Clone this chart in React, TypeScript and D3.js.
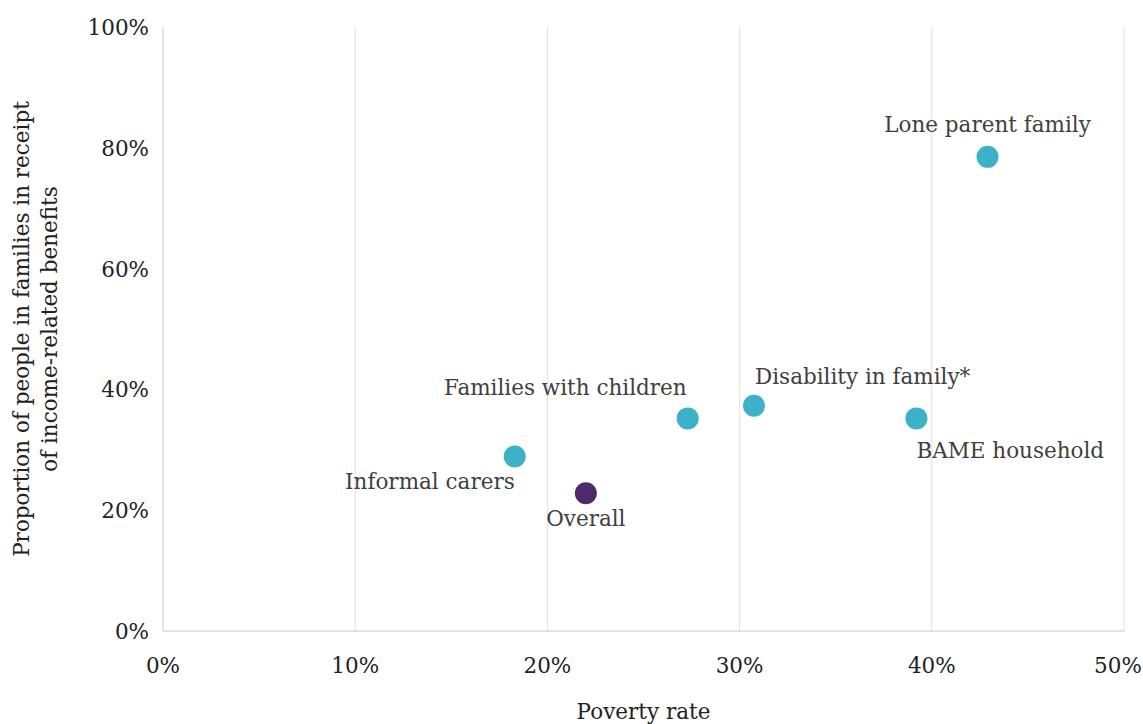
import React from "react";
import * as d3 from "d3";

const labels = ["Lone parent family", "Disability in family*", "Families with children", "BAME household", "Informal carers", "Overall"];
const povertyRate = [0.429, 0.3075, 0.273, 0.392, 0.183, 0.22];
const benefitShare = [0.785, 0.373, 0.352, 0.352, 0.289, 0.228];
const isOverall = [false, false, false, false, false, true];
const xTicks = [0, 0.1, 0.2, 0.3, 0.4, 0.5];
const yTicks = [0, 0.2, 0.4, 0.6, 0.8, 1.0];
// label placement: [anchor, dx, dy]
const labelPos: [string, number, number][] = [
  ["middle", 0, -25],
  ["start", 1, -22],
  ["end", -1, -23],
  ["start", 0, 40],
  ["end", 0, 33],
  ["middle", 0, 33],
];

const W = 1143, H = 724;
const m = { left: 163, right: 19, top: 27, bottom: 93 };
const FONT = "'DejaVu Serif', serif";
const FS = 21.5;

export default function App() {
  const x = d3.scaleLinear().domain([0, 0.5]).range([m.left, W - m.right]);
  const y = d3.scaleLinear().domain([0, 1]).range([H - m.bottom, m.top]);
  const fmt = d3.format(".0%");
  return (
    <svg width={W} height={H} style={{ position: "absolute", left: 0, top: 0, background: "#fff" }} fontFamily={FONT}>
      {xTicks.slice(1).map((t) => (
        <line key={t} x1={x(t)} x2={x(t)} y1={y(1)} y2={y(0)} stroke="#e0e0e0" strokeWidth={1} />
      ))}
      <line x1={x(0)} x2={x(0)} y1={y(1)} y2={y(0)} stroke="#c8c8c8" />
      <line x1={x(0)} x2={x(0.5)} y1={y(0)} y2={y(0)} stroke="#c8c8c8" />
      {xTicks.map((t, i) => (
        <text key={t} x={x(t) + (i === xTicks.length - 1 ? -6 : 0)} y={y(0) + 42} textAnchor="middle" fontSize={FS} fill="#222">{fmt(t)}</text>
      ))}
      {yTicks.map((t) => (
        <text key={t} x={x(0) - 14} y={y(t) + 8} textAnchor="end" fontSize={FS} fill="#222">{fmt(t)}</text>
      ))}
      <text x={(x(0) + x(0.5)) / 2} y={719} textAnchor="middle" fontSize={FS} fill="#222">Poverty rate</text>
      <g transform={`translate(0, ${(y(0) + y(1)) / 2}) rotate(-90)`}>
        <text x={0} y={29} textAnchor="middle" fontSize={FS} fill="#222">Proportion of people in families in receipt</text>
        <text x={0} y={57} textAnchor="middle" fontSize={FS} fill="#222">of income-related benefits</text>
      </g>
      {labels.map((l, i) => (
        <circle key={l} cx={x(povertyRate[i])} cy={y(benefitShare[i])} r={11} fill={isOverall[i] ? "#4e2a6a" : "#3cb1c8"} />
      ))}
      {labels.map((l, i) => (
        <text key={l} x={x(povertyRate[i]) + labelPos[i][1]} y={y(benefitShare[i]) + labelPos[i][2]} textAnchor={labelPos[i][0] as any} fontSize={FS} fill="#404040">{l}</text>
      ))}
    </svg>
  );
}
